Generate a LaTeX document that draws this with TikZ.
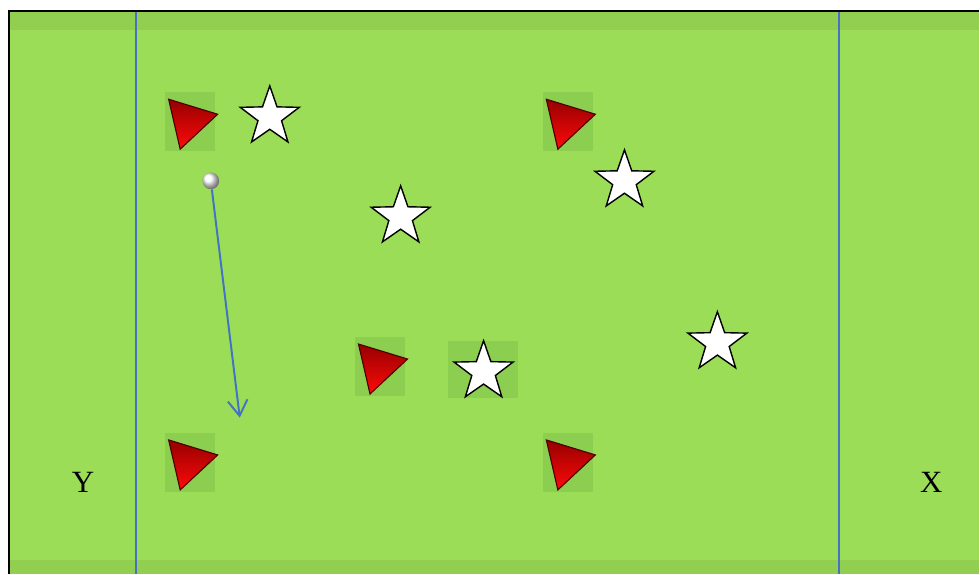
\documentclass[tikz,border=0pt]{standalone}
\usepackage{fontspec}
\setmainfont{Liberation Serif}
\usetikzlibrary{shapes.geometric,arrows.meta}
\definecolor{FieldGreen}{RGB}{155,221,87}
\definecolor{BandGreen}{RGB}{146,207,80}
\definecolor{PatchGreen}{RGB}{140,206,80}
\definecolor{LineBlue}{RGB}{68,114,196}
\definecolor{ConeDark}{RGB}{150,0,0}
\definecolor{ConeRed}{RGB}{255,10,10}

\begin{document}
\begin{tikzpicture}[x=0.025cm, y=-0.025cm,
  patch/.style={fill=PatchGreen, draw=none, inner sep=0pt},
  cone/.style={regular polygon, regular polygon sides=3, minimum size=1.48cm, inner sep=0pt, rotate=43, draw=ConeDark!50!black, line width=0.8pt, top color=ConeDark, bottom color=ConeRed},
  starmark/.style={star, star points=5, star point ratio=2.5, minimum size=1.55cm, inner sep=0pt, fill=white, draw=black, line width=1pt},
  ball/.style={circle, minimum size=0.42cm, inner sep=0pt, shading=ball, ball color=white},
  endlabel/.style={font=\fontsize{22}{26}\selectfont},
  goal/.style={LineBlue, line width=1.5pt}]
  % pitch
  \fill[white] (0,0) rectangle (980,574);
  \fill[FieldGreen] (9,11) rectangle (980,574);
  \fill[BandGreen] (9,11) rectangle (980,30);
  \fill[BandGreen] (9,560) rectangle (980,574);
  \draw[black, line width=1.2pt] (9,574) -- (9,11) -- (980,11);
  \coordinate (ytop) at (136,12);
  \coordinate (ybot) at (136,574);
  \coordinate (xtop) at (840,12);
  \coordinate (xbot) at (840,574);
  \draw[goal] (ytop) -- (ybot);
  \draw[goal] (xtop) -- (xbot);
  % cones
  \foreach \name/\px/\py in {coneA/190/122, coneB/568/122, coneC/380/367, coneD/190/463, coneE/568/463} {
    \node[patch, minimum width=1.25cm, minimum height=1.48cm] at (\px,\py) {};
    \node[cone] (\name) at (\px-1,\py-1) {};
  }
  % players
  \node[patch, minimum width=1.75cm, minimum height=1.42cm] at (483,370) {};
  \node[starmark] (starA) at (270,117) {};
  \node[starmark] (starB) at (401,217) {};
  \node[starmark] (starC) at (625,181) {};
  \node[starmark] (starD) at (718,343) {};
  \node[starmark] (starE) at (484,372) {};
  % ball and pass
  \node[ball] (ball) at (211,181) {};
  \coordinate (passend) at (240,418);
  \draw[LineBlue, line width=1.4pt, -{Straight Barb[length=11pt, width=14pt, line width=1.4pt]}] (ball) -- (passend);
  % ends
  \node[endlabel] (ylab) at (83,483) {Y};
  \node[endlabel] (xlab) at (932,483) {X};
\end{tikzpicture}
\end{document}
